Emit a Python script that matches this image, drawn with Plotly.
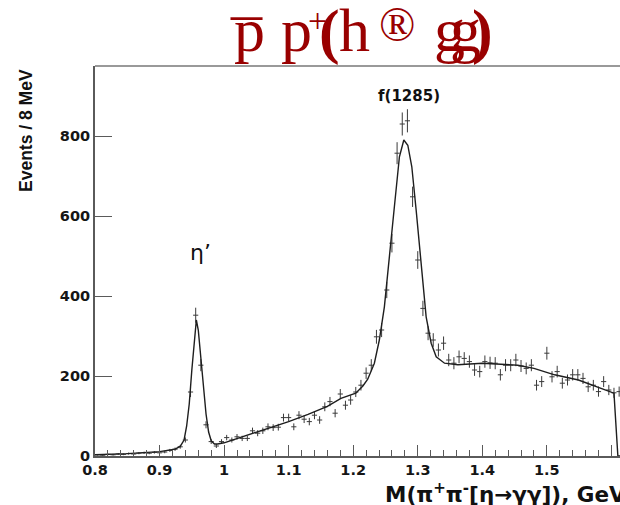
import numpy as np
import plotly.graph_objects as go

# Histogram: 8 MeV bins starting at 0.800 GeV (bin centres)
bin_width = 0.008
bin_centers = [round(0.804 + bin_width * k, 3) for k in range(102)]
counts = [3, 2, 4, 3, 5, 4, 6, 5, 7, 8, 7, 9, 8, 10,
          14, 17, 23, 40, 160, 352, 227, 78, 36, 25, 36, 46, 40, 48,
          44, 44, 63, 57, 63, 73, 71, 72, 96, 96, 73, 102, 92, 86,
          102, 90, 123, 136, 107, 155, 127, 140, 160, 177, 207, 227, 298, 315,
          415, 532, 757, 830, 838, 648, 490, 369, 307, 290, 265, 282, 240, 232,
          248, 244, 236, 215, 211, 236, 233, 232, 203, 227, 227, 240, 225, 219,
          227, 177, 186, 257, 198, 211, 182, 190, 203, 203, 194, 173, 177, 161,
          186, 165, 158, 161]

# Fitted curve, sampled along the mass axis
fit_mass = [0.800, 0.850, 0.900, 0.915, 0.924, 0.932, 0.938, 0.942, 0.946, 0.950,
            0.954, 0.957, 0.960, 0.964, 0.968, 0.972, 0.976, 0.980, 0.985, 0.990,
            1.000, 1.030, 1.060, 1.100, 1.130, 1.160, 1.181, 1.204, 1.215, 1.2225,
            1.2328, 1.2405, 1.2483, 1.256, 1.2638, 1.2716, 1.2784, 1.2846, 1.2908,
            1.2975, 1.3053, 1.313, 1.3208, 1.3286, 1.3415, 1.362, 1.400, 1.455,
            1.480, 1.512, 1.549, 1.585, 1.604, 1.610, 1.620]
fit_count = [3, 6, 11, 14, 17, 24, 40, 75, 130, 215,
             300, 340, 315, 240, 165, 105, 60, 38, 30, 30,
             33, 49, 65, 86, 104, 124, 144, 157, 175, 192,
             232, 290, 373, 490, 623, 748, 790, 777, 723,
             615, 473, 348, 282, 248, 232, 228, 232, 227,
             219, 203, 190, 169, 157, 0, 0]

x_ticks = [0.8, 0.9, 1.0, 1.1, 1.2, 1.3, 1.4, 1.5, 1.6]
x_tick_labels = ["0.8", "0.9", "1", "1.1", "1.2", "1.3", "1.4", "1.5", "1.6"]
y_ticks = [0, 200, 400, 600, 800]
y_tick_labels = ["0", "200", "400", "600", "800"]

W, H = 620, 505
L, R, T, B = 95, 0, 66, 49
PW, PH = W - L - R, H - T - B


def px(x):
    return (x - L) / PW


def py(y):
    return (H - B - y) / PH


fig = go.Figure()

# data points: crosses made of the bin-width bar and the Poisson error bar
fig.add_trace(go.Scatter(
    x=bin_centers, y=counts, mode="markers",
    marker=dict(size=2, color="rgba(0,0,0,0)"),
    error_x=dict(type="constant", value=bin_width / 2, width=0, thickness=1, color="#3a3a3a"),
    error_y=dict(type="data", array=np.sqrt(counts), width=0, thickness=1, color="#3a3a3a"),
    hoverinfo="skip", showlegend=False,
))

fig.add_trace(go.Scatter(
    x=fit_mass, y=fit_count, mode="lines",
    line=dict(color="#1e1e1e", width=1.4),
    hoverinfo="skip", showlegend=False,
))

tick_font = dict(family="DejaVu Sans", size=14.5, color="#151515", weight="bold")
axis_col = "#5a5a5a"

fig.update_xaxes(
    range=[0.8, 0.8 + PW / 645.5], tickmode="array", tickvals=x_ticks, ticktext=x_tick_labels,
    ticks="inside", ticklen=11, tickwidth=1, tickcolor=axis_col,
    minor=dict(ticks="inside", ticklen=6, tickwidth=1, tickcolor=axis_col, dtick=0.02, tick0=0.8),
    showline=True, linecolor=axis_col, linewidth=2, showgrid=False, zeroline=False,
    tickfont=tick_font,
)
fig.update_yaxes(
    range=[0, 975], tickmode="array", tickvals=y_ticks, ticktext=y_tick_labels,
    ticks="inside", ticklen=17, tickwidth=1, tickcolor=axis_col,
    showline=True, linecolor=axis_col, linewidth=2, showgrid=False, zeroline=False,
    tickfont=tick_font,
)

# top frame edge
fig.add_shape(type="line", xref="paper", yref="paper", x0=0, x1=1, y0=1, y1=1,
              line=dict(color="#777", width=1.5))

ann = []
# axis titles
ann.append(dict(x=px(26), y=py(131), xref="paper", yref="paper", text="<b>Events / 8 MeV</b>",
                textangle=-90, showarrow=False, xanchor="center", yanchor="middle",
                font=dict(family="Liberation Sans", size=17.5, color="#111")))
ann.append(dict(x=px(383), y=py(493), xref="paper", yref="paper",
                text="<b>M(π<sup>+</sup>π<sup>-</sup>[η→γγ]), GeV</b>",
                showarrow=False, xanchor="left", yanchor="middle",
                font=dict(family="DejaVu Sans", size=21.5, color="#111")))
# peak labels
ann.append(dict(x=px(200), y=py(252), xref="paper", yref="paper", text="η’",
                showarrow=False, xanchor="center", yanchor="middle",
                font=dict(family="DejaVu Sans", size=22, color="#111")))
ann.append(dict(x=px(409), y=py(96), xref="paper", yref="paper", text="<b>f(1285)</b>",
                showarrow=False, xanchor="center", yanchor="middle",
                font=dict(family="DejaVu Sans", size=15, color="#111")))

# title glyphs
red = "#990000"
S = 62
title_parts = [
    ("p", 249, 30, S),
    ("¯", 246, 43, S),
    ("p", 296, 30, S),
    ("+", 317, 21, 34),
    ("<b>(</b>", 329, 31, S),
    ("h", 354, 30, S),
    ("®", 397, 25, 48),
    ("g", 449, 30, S),
    ("g", 465, 30, S),
    ("<b>)</b>", 482, 31, S),
]
for txt, cx, cy, size in title_parts:
    ann.append(dict(x=px(cx), y=py(cy), xref="paper", yref="paper", text=txt,
                    showarrow=False, xanchor="center", yanchor="middle",
                    font=dict(family="Liberation Serif", size=size, color=red)))

fig.update_layout(
    width=W, height=H, margin=dict(l=L, r=R, t=T, b=B, pad=0),
    paper_bgcolor="white", plot_bgcolor="white",
    annotations=ann, showlegend=False,
)

fig.write_html("out.html")
